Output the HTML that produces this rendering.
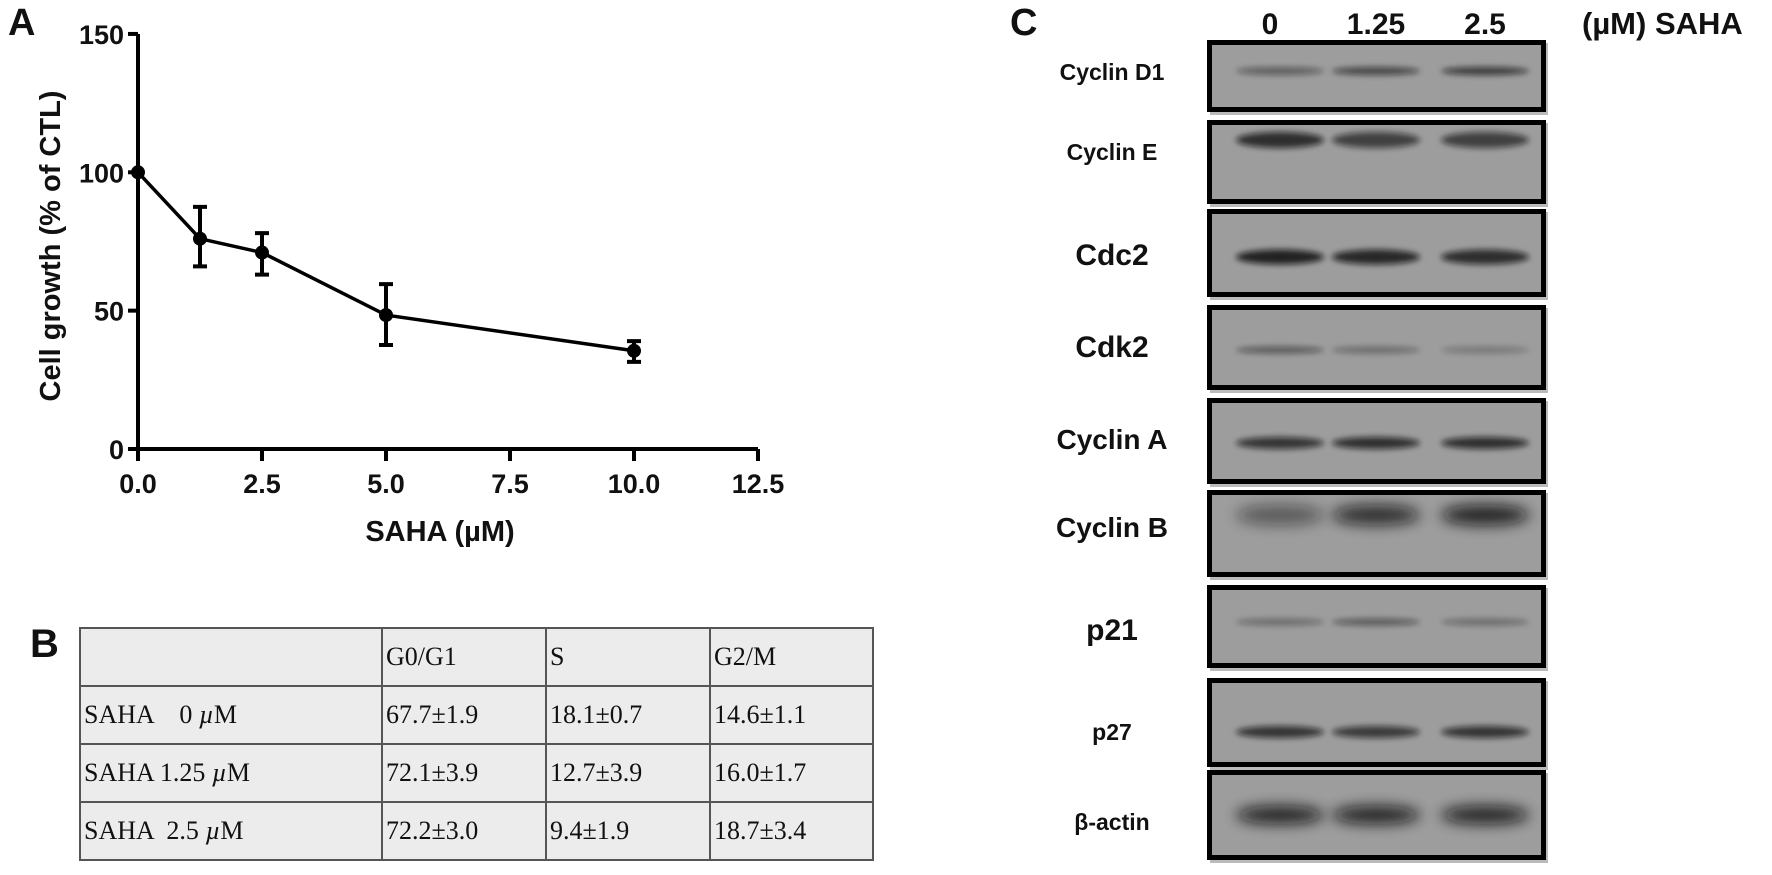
<!DOCTYPE html>
<html><head><meta charset="utf-8"><style>
body{margin:0;background:#fff;width:1772px;height:875px;overflow:hidden;position:relative;font-family:"Liberation Sans",sans-serif}
.abs{position:absolute}
.lbl{font-weight:bold;color:#111}
table{border-collapse:collapse;position:absolute;left:79px;top:627px;background:#ececec;font-family:"Liberation Serif",serif;font-size:26px;color:#111}
td{border:2px solid #555;padding:0 3px;height:56px;vertical-align:middle;white-space:pre}
</style></head><body>
<div class="abs lbl" style="left:8px;top:2px;font-size:38px">A</div>
<svg class="abs" style="left:0;top:0" width="800" height="580" id="chart"></svg>
<div class="abs lbl" style="left:30px;top:622px;font-size:40px">B</div>
<table>
<tr><td style="width:294px"></td><td style="width:156px">G0/G1</td><td style="width:156px">S</td><td style="width:155px">G2/M</td></tr>
<tr><td>SAHA    0 <i>µ</i>M</td><td>67.7±1.9</td><td>18.1±0.7</td><td>14.6±1.1</td></tr>
<tr><td>SAHA 1.25 <i>µ</i>M</td><td>72.1±3.9</td><td>12.7±3.9</td><td>16.0±1.7</td></tr>
<tr><td>SAHA  2.5 <i>µ</i>M</td><td>72.2±3.0</td><td>9.4±1.9</td><td>18.7±3.4</td></tr>
</table>
<div class="abs lbl" style="left:1010px;top:2px;font-size:38px">C</div>
<svg class="abs" style="left:1000px;top:0" width="772" height="875" id="blot"></svg>
<script>
const doses=[0,1.25,2.5,5,10];
const growth=[100,76,71,48.4,35.5];
const errHi=[100,87.5,78,59.6,39];
const errLo=[100,66,63,37.6,31.5];
const xTicks=["0.0","2.5","5.0","7.5","10.0","12.5"];
const yTicks=["0","50","100","150"];
const NS="http://www.w3.org/2000/svg";
function mk(p,t,a){const e=document.createElementNS(NS,t);for(const k in a)e.setAttribute(k,a[k]);p.appendChild(e);return e;}
const svg=document.getElementById('chart');
const X=v=>138+v*49.6, Y=v=>449-v*2.767;
let ax=mk(svg,'path',{d:`M${X(0)} ${Y(150)}V${Y(0)}H${X(12.5)}`,stroke:'#000','stroke-width':4,fill:'none'});

xTicks.forEach(t=>{const v=parseFloat(t);
 mk(svg,'line',{x1:X(v),x2:X(v),y1:Y(0),y2:Y(0)+12,stroke:'#000','stroke-width':4});
 const tx=mk(svg,'text',{x:X(v),y:Y(0)+44,'text-anchor':'middle','font-size':27,'font-weight':'bold',fill:'#111'});tx.textContent=t;
 });
yTicks.forEach(t=>{const v=parseFloat(t);
 mk(svg,'line',{x1:X(0)-10,x2:X(0),y1:Y(v),y2:Y(v),stroke:'#000','stroke-width':4});
 const tx=mk(svg,'text',{x:X(0)-14,y:Y(v)+10,'text-anchor':'end','font-size':27,'font-weight':'bold',fill:'#111'});tx.textContent=t;
 });
let yt=mk(svg,'text',{x:0,y:0,transform:'translate(60,246) rotate(-90)','text-anchor':'middle','font-size':29,'font-weight':'bold',fill:'#111'});
yt.textContent='Cell growth (% of CTL)';
let xt=mk(svg,'text',{x:440,y:541,'text-anchor':'middle','font-size':29,'font-weight':'bold',fill:'#111'});
xt.textContent='SAHA (µM)';
let ln=mk(svg,'polyline',{points:doses.map((d,i)=>X(d)+','+Y(growth[i])).join(' '),fill:'none',stroke:'#000','stroke-width':3.5});

doses.forEach((d,i)=>{
 if(errHi[i]!==errLo[i]){
  mk(svg,'path',{d:`M${X(d)} ${Y(errHi[i])}V${Y(errLo[i])}M${X(d)-7} ${Y(errHi[i])}h14M${X(d)-7} ${Y(errLo[i])}h14`,stroke:'#000','stroke-width':4,fill:'none'});}
 const c=mk(svg,'circle',{cx:X(d),cy:Y(growth[i]),r:7,fill:'#000'});
 });

// blot
const b=document.getElementById('blot');
const defs=mk(b,'defs',{});
const f=mk(defs,'filter',{id:'bl',x:'-20%',y:'-100%',width:'140%',height:'300%'});mk(f,'feGaussianBlur',{stdDeviation:3});
const f2=mk(defs,'filter',{id:'bl2',x:'-20%',y:'-100%',width:'140%',height:'300%'});mk(f2,'feGaussianBlur',{stdDeviation:7});
const laneLabels=["0","1.25","2.5"];
const laneX=[1280,1376,1485];
laneLabels.forEach((t,i)=>{const tx=mk(b,'text',{x:laneX[i]-1000+(i==0?-10:0),y:34,'text-anchor':'middle','font-size':30,'font-weight':'bold',fill:'#111'});tx.textContent=t;
 });
let um=mk(b,'text',{x:582,y:34,'font-size':31,'font-weight':'bold',fill:'#111'});um.textContent='(µM) SAHA';

const proteins=["Cyclin D1","Cyclin E","Cdc2","Cdk2","Cyclin A","Cyclin B","p21","p27","β-actin"];
const boxTop=[40,120,209,305,398,490,585,678,770];
const boxBot=[112,204,297,390,484,577,668,767,860];
const bandY=[71,140,257,350,443,515,622,732,815];
const bandInt=[[0.5,0.7,0.8],[0.9,0.75,0.75],[1,0.95,0.9],[0.55,0.4,0.3],[0.85,0.9,0.9],[0.55,0.9,1],[0.4,0.55,0.4],[0.85,0.8,0.85],[1,1,1]];
const bandH=[6,14,13,5,10,18,5,10,16];
const fs=[23,23,30,30,28,28,30,23,23];
const lblY=[80,160,265,357,449,537,640,740,830];
proteins.forEach((p,r)=>{
 const g=mk(b,'g',{});
 mk(g,'rect',{x:210,y:boxTop[r]+3,width:338,height:boxBot[r]-boxTop[r],fill:'#bbb'});
 mk(g,'rect',{x:209.5,y:boxTop[r]+2.5,width:334,height:boxBot[r]-boxTop[r]-5,fill:'#9d9d9d',stroke:'#000','stroke-width':5});
 laneX.forEach((lx,i)=>{const a=bandInt[r][i];
  mk(g,'ellipse',{cx:lx-1000,cy:bandY[r],rx:44,ry:bandH[r]/2+1,fill:'#111',opacity:a*0.85,filter:bandH[r]>14?'url(#bl2)':'url(#bl)'});});
 const tx=mk(b,'text',{x:112,y:lblY[r],'text-anchor':'middle','font-size':fs[r],'font-weight':'bold',fill:'#111'});tx.textContent=p;
 
});
</script>
</body></html>
